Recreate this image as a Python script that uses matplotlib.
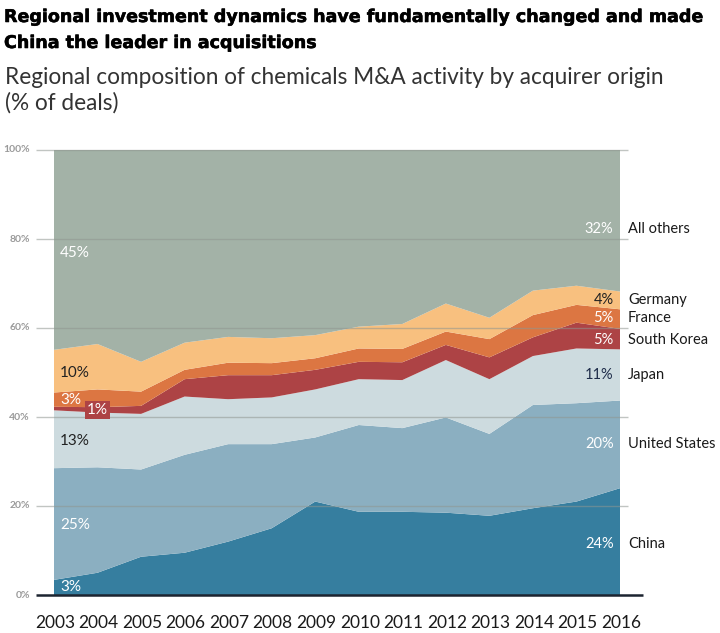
import matplotlib
matplotlib.use("Agg")
import matplotlib.pyplot as plt
import matplotlib.patheffects as pe
import numpy as np

years = [2003, 2004, 2005, 2006, 2007, 2008, 2009, 2010, 2011, 2012, 2013, 2014, 2015, 2016]
china = [3.4, 5.0, 8.6, 9.5, 12.0, 15.0, 21.0, 18.7, 18.7, 18.5, 17.8, 19.5, 21.0, 24.0]
united_states = [25.1, 23.7, 19.6, 22.0, 21.9, 18.9, 14.4, 19.5, 18.8, 21.4, 18.4, 23.2, 22.1, 19.7]
japan = [13.0, 12.3, 12.5, 13.1, 10.1, 10.5, 10.8, 10.3, 10.8, 12.9, 12.3, 11.0, 12.3, 11.5]
south_korea = [0.8, 1.2, 1.8, 3.9, 5.4, 5.0, 4.4, 3.9, 4.0, 3.4, 4.9, 4.2, 5.8, 4.6]
france = [3.2, 4.0, 3.2, 2.1, 2.8, 2.7, 2.6, 3.0, 3.0, 3.0, 4.1, 5.0, 4.0, 4.4]
germany = [9.6, 10.2, 6.7, 6.1, 5.8, 5.6, 5.2, 4.9, 5.6, 6.3, 4.8, 5.5, 4.3, 4.0]
all_others = [44.9, 43.6, 47.6, 43.3, 42.0, 42.3, 41.6, 39.7, 39.1, 34.5, 37.7, 31.6, 30.5, 31.8]

series_names = ["China", "United States", "Japan", "South Korea", "France", "Germany", "All others"]
series_values = [china, united_states, japan, south_korea, france, germany, all_others]
colors = ["#367e9f", "#8bafc1", "#cddbdf", "#ad4345", "#dc7642", "#f8c07f", "#a3b2a7"]

y_ticks = [0, 20, 40, 60, 80, 100]
y_tick_labels = ["0%", "20%", "40%", "60%", "80%", "100%"]

start_labels = ["3%", "25%", "13%", "1%", "3%", "10%", "45%"]
end_labels = ["24%", "20%", "11%", "5%", "5%", "4%", "32%"]

W, H = 720, 633
fig = plt.figure(figsize=(W / 100, H / 100), dpi=100)
plt.rcParams['font.family'] = ['Lato', 'DejaVu Sans']

x0p, x1p, y0p, y1p = 54, 620, 595, 150
ax = fig.add_axes([x0p / W, 1 - y0p / H, (x1p - x0p) / W, (y0p - y1p) / H])
ax.set_xlim(years[0], years[-1])
ax.set_ylim(0, 100)
ax.axis("off")

ppx = (years[-1] - years[0]) / (x1p - x0p)  # data units per pixel
ppy = 100 / (y0p - y1p)

ax.stackplot(years, *series_values, colors=colors, linewidth=0, zorder=1)

# gridlines
for t in y_ticks:
    if t == 0:
        continue
    ax.hlines(t, years[0] - 18 * ppx, years[-1] + 8 * ppx, colors="#8f9691",
              linewidth=1.0, alpha=0.55, zorder=3, clip_on=False)
ax.hlines(0, years[0] - 18 * ppx, years[-1] + 23 * ppx, colors="#1c2430",
          linewidth=1.8, zorder=4, clip_on=False)
for t, lab in zip(y_ticks, y_tick_labels):
    ax.text(years[0] - 24 * ppx, t, lab, ha="right", va="center", fontsize=7.5,
            fontweight="bold", color="#9a9a9a", clip_on=False)

# x tick labels
for yr in years:
    ax.text(yr + 1 * ppx, -28 * ppy, str(yr), ha="center", va="center", fontsize=12.5,
            color="#1a1a1a", clip_on=False)

# start labels (left)
lx = years[0] + 6 * ppx
start_pos = [(lx, 1.8, "white"), (lx, 15.7, "white"), (lx, 34.6, "#222222"),
             (years[1], 41.6, "white"), (lx, 43.8, "white"), (lx, 49.9, "#222222"),
             (lx, 76.9, "white")]
for (x, y, c), lab in zip(start_pos, start_labels):
    if lab == "1%" and x == years[1]:
        ax.text(x, y, lab, ha="center", va="center", fontsize=11, color=c, zorder=6,
                bbox=dict(boxstyle="square,pad=0.12", facecolor="#ad4345", edgecolor="none"))
    else:
        ax.text(x, y, lab, ha="left", va="center", fontsize=11, color=c, zorder=6)

# end labels (right)
end_pos = [11.5, 33.9, 49.4, 57.3, 62.2, 66.3, 82.2]
end_colors = ["white", "white", "#1f2d4a", "white", "white", "#222222", "white"]
for y, lab, c, name in zip(end_pos, end_labels, end_colors, series_names):
    ax.text(years[-1] - 6.5 * ppx, y, lab, ha="right", va="center", fontsize=10.5, color=c, zorder=6)
    ax.text(years[-1] + 8 * ppx, y, name, ha="left", va="center", fontsize=10.5,
            color="#1a1a1a", clip_on=False)

title_kw = dict(fontsize=12.6, fontweight="bold", color="#000000", va="center", ha="left",
                family=["DejaVu Sans"],
                path_effects=[pe.withStroke(linewidth=0.4, foreground="#000000")])
fig.text(4 / W, 1 - 17 / H, "Regional investment dynamics have fundamentally changed and made", **title_kw)
fig.text(4 / W, 1 - 43 / H, "China the leader in acquisitions", **title_kw)
sub_kw = dict(fontsize=16.3, color="#333333", va="center", ha="left")
fig.text(5 / W, 1 - 78 / H, "Regional composition of chemicals M&A activity by acquirer origin", **sub_kw)
fig.text(5 / W, 1 - 103 / H, "(% of deals)", **sub_kw)

fig.savefig("out.png", dpi=100)
